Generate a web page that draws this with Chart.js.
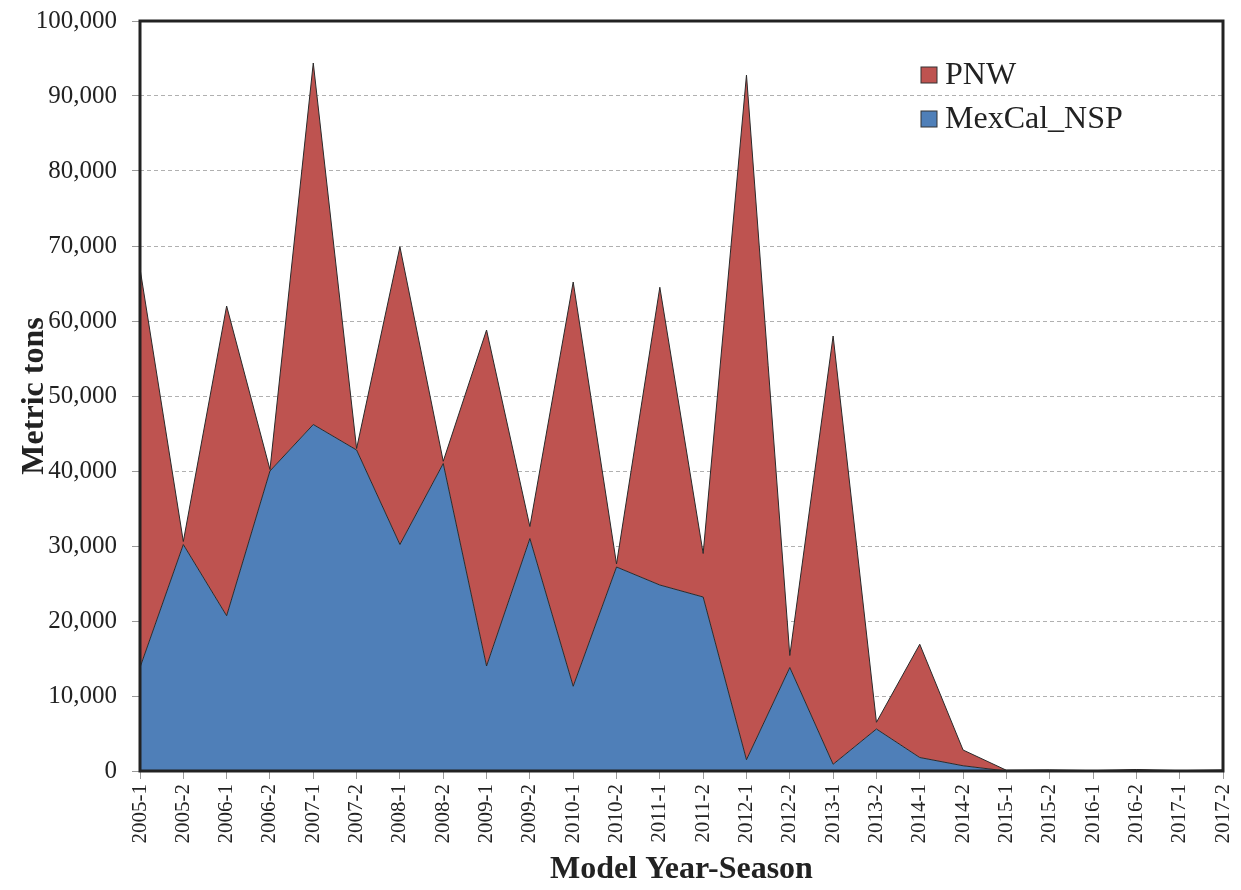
<!DOCTYPE html>
<html>
<head>
<meta charset="utf-8">
<script src="https://cdn.jsdelivr.net/npm/chart.js@4.4.1/dist/chart.umd.min.js"></script>
<style>
  html, body { margin: 0; padding: 0; background: #fff; }
  #wrap { width: 1241px; height: 890px; position: relative; }
</style>
</head>
<body>
<div id="wrap"><canvas id="c" width="1241" height="890"></canvas></div>
<script>
const categories = ['2005-1','2005-2','2006-1','2006-2','2007-1','2007-2','2008-1','2008-2','2009-1','2009-2',
  '2010-1','2010-2','2011-1','2011-2','2012-1','2012-2','2013-1','2013-2','2014-1','2014-2',
  '2015-1','2015-2','2016-1','2016-2','2017-1','2017-2'];
const mexCalNSP = [13800, 30200, 20700, 40000, 46200, 42800, 30200, 41000, 14000, 31000,
  11300, 27200, 24800, 23200, 1500, 13800, 900, 5600, 1800, 700,
  0, 50, 0, 100, 0, 50];
const pnw = [53200, 400, 41300, 200, 48200, 200, 39700, 300, 44800, 1600,
  53900, 400, 39700, 5800, 91300, 1600, 57100, 900, 15100, 2100,
  100, 100, 50, 100, 50, 100];
const yTicks = [0, 10000, 20000, 30000, 40000, 50000, 60000, 70000, 80000, 90000, 100000];

const FONT = '"Liberation Serif", "Times New Roman", serif';
const RED = '#BE5350';
const BLUE = '#4F7FB8';

const framePlugin = {
  id: 'frame',
  afterDraw(chart) {
    const ctx = chart.ctx;
    const a = chart.chartArea;
    ctx.save();
    ctx.strokeStyle = '#222';
    ctx.lineWidth = 3;
    ctx.strokeRect(a.left, a.top, a.right - a.left, a.bottom - a.top);
    // legend
    const items = [{label: 'PNW', color: RED, y: 75}, {label: 'MexCal_NSP', color: BLUE, y: 119}];
    ctx.font = '32px ' + FONT;
    ctx.textBaseline = 'middle';
    ctx.textAlign = 'left';
    items.forEach(it => {
      ctx.fillStyle = it.color;
      ctx.fillRect(921, it.y - 8, 16, 16);
      ctx.strokeStyle = '#333';
      ctx.lineWidth = 1;
      ctx.strokeRect(921, it.y - 8, 16, 16);
      ctx.fillStyle = '#222';
      ctx.fillText(it.label, 945, it.y + 1);
    });
    ctx.restore();
  }
};

new Chart(document.getElementById('c'), {
  type: 'line',
  data: {
    labels: categories,
    datasets: [
      {
        label: 'MexCal_NSP',
        data: mexCalNSP,
        backgroundColor: BLUE,
        borderColor: '#2a2a2a',
        borderWidth: 1,
        fill: 'origin',
        pointRadius: 0,
        tension: 0
      },
      {
        label: 'PNW',
        data: pnw,
        backgroundColor: RED,
        borderColor: '#2a2a2a',
        borderWidth: 1,
        fill: '-1',
        pointRadius: 0,
        tension: 0
      }
    ]
  },
  options: {
    responsive: false,
    animation: false,
    devicePixelRatio: 1,
    layout: { padding: { left: 0, right: 18, top: 21, bottom: 0 } },
    plugins: {
      legend: { display: false },
      tooltip: { enabled: false },
      filler: { propagate: false }
    },
    scales: {
      x: {
        offset: false,
        grid: {
          display: true,
          drawOnChartArea: false,
          drawTicks: true,
          tickLength: 8,
          color: '#999',
          tickColor: '#999'
        },
        border: { display: false },
        ticks: {
          autoSkip: false,
          maxRotation: 90,
          minRotation: 90,
          padding: 5,
          color: '#222',
          font: { family: FONT, size: 21 }
        },
        title: {
          display: true,
          text: 'Model Year-Season',
          color: '#222',
          font: { family: FONT, size: 32, weight: 'bold' },
          padding: { top: 0, bottom: 1 }
        },
        afterFit(scale) { scale.height = 119; scale.paddingLeft = 0; scale.paddingRight = 0; }
      },
      y: {
        stacked: true,
        min: 0,
        max: 100000,
        afterBuildTicks(scale) { scale.ticks = yTicks.map(v => ({ value: v })); },
        grid: {
          color: '#b0b0b0',
          tickColor: '#999',
          lineWidth: 1,
          tickLength: 8,
          tickBorderDash: []
        },
        border: { display: false, dash: [4, 3] },
        ticks: {
          padding: 15,
          color: '#222',
          font: { family: FONT, size: 25 },
          callback: v => Number(v).toLocaleString('en-US')
        },
        title: {
          display: true,
          text: 'Metric tons',
          color: '#222',
          font: { family: FONT, size: 32, weight: 'bold' },
          padding: { top: 16, bottom: 0 }
        },
        afterFit(scale) { scale.width = 140; scale.paddingTop = 0; scale.paddingBottom = 0; }
      }
    }
  },
  plugins: [framePlugin]
});
</script>
</body>
</html>
